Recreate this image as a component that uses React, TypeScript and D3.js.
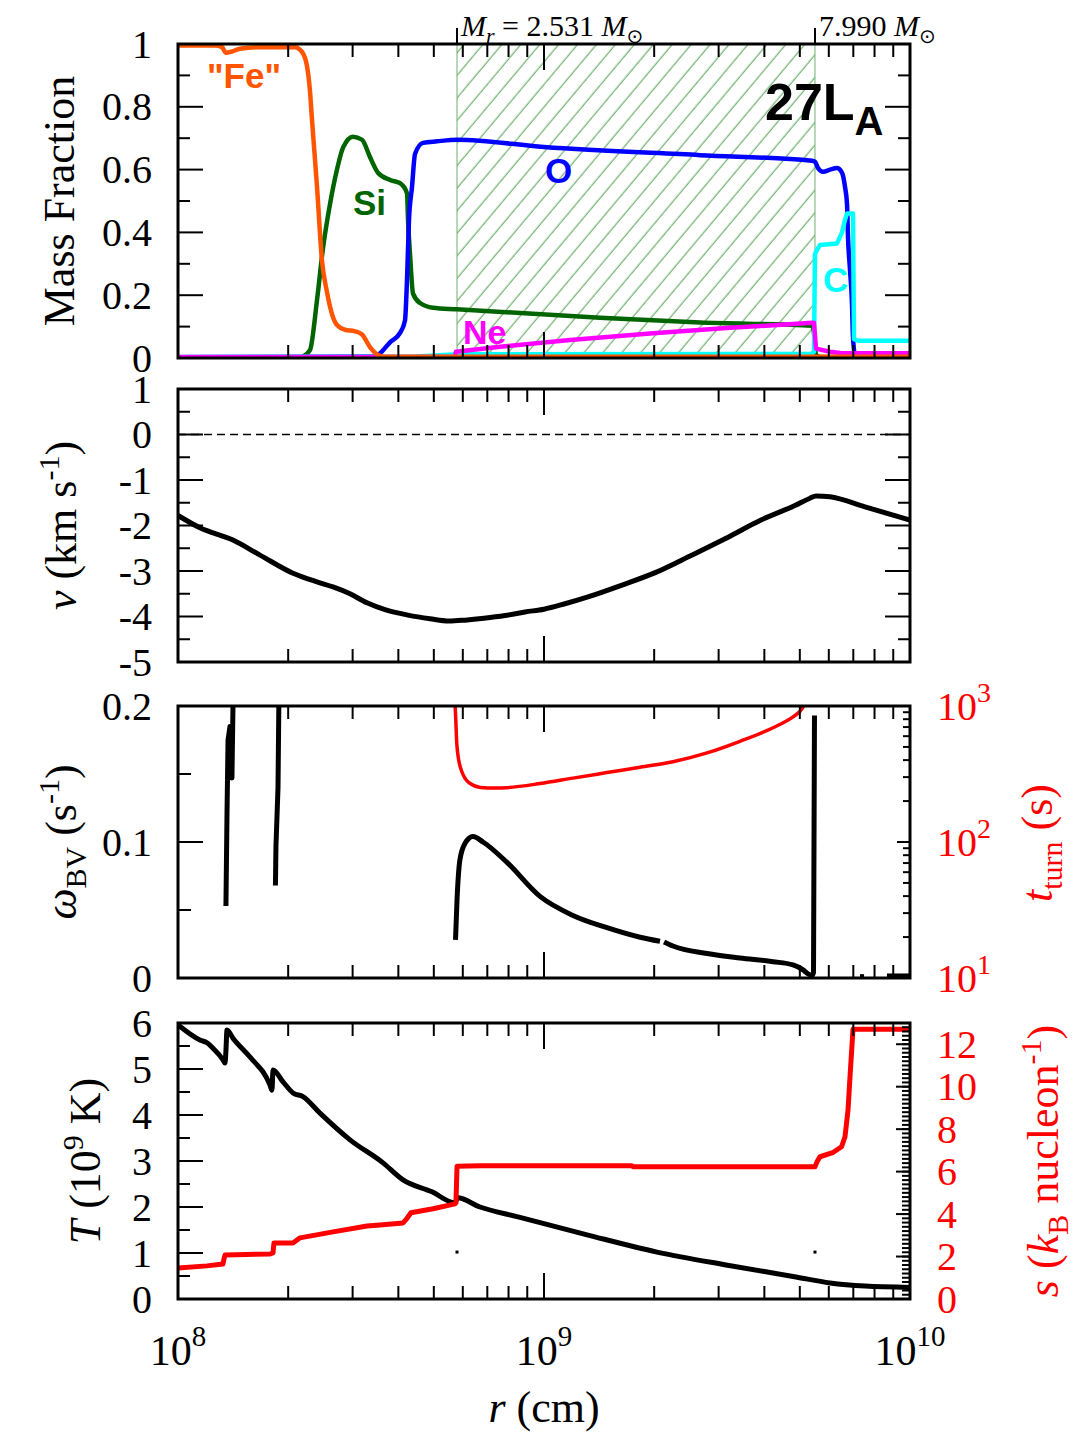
import React from "react";
import * as d3 from "d3";

type P = [number, number];

// ---------------- data ----------------
const X_TICK_EXPONENTS = [8, 9, 10];
const MF_TICKS = [0, 0.2, 0.4, 0.6, 0.8, 1];
const MF_TICK_LABELS = ["0", "0.2", "0.4", "0.6", "0.8", "1"];
const V_TICKS = [1, 0, -1, -2, -3, -4, -5];
const V_TICK_LABELS = ["1", "0", "-1", "-2", "-3", "-4", "-5"];
const W_TICKS = [0, 0.1, 0.2];
const W_TICK_LABELS = ["0", "0.1", "0.2"];
const TT_TICK_EXPONENTS = [1, 2, 3];
const T_TICKS = [0, 1, 2, 3, 4, 5, 6];
const S_TICKS = [0, 2, 4, 6, 8, 10, 12];

const MR_R = [5.785e8, 5.5e9];
const MR_LABELS = ["2.531", "7.990"];
const MR_DOT_T = 1.02;

const FE: P[] = [[1.0e8,0.995],[1.262e8,0.995],[1.319e8,0.99],[1.352e8,0.972],[1.404e8,0.976],[1.477e8,0.985],[1.675e8,0.99],[2.088e8,0.99],[2.182e8,0.975],[2.251e8,0.93],[2.294e8,0.85],[2.323e8,0.76],[2.398e8,0.545],[2.474e8,0.31],[2.553e8,0.21],[2.635e8,0.14],[2.719e8,0.105],[2.859e8,0.09],[3.045e8,0.085],[3.183e8,0.075],[3.346e8,0.035],[3.519e8,0.01],[3.678e8,0.004],[1e10,0.004]];
const SI: P[] = [[1e8,0.001],[2.154e8,0.002],[2.195e8,0.005],[2.294e8,0.025],[2.398e8,0.185],[2.49e8,0.35],[2.602e8,0.49],[2.719e8,0.6],[2.824e8,0.67],[3.007e8,0.705],[3.183e8,0.695],[3.346e8,0.64],[3.519e8,0.59],[3.795e8,0.567],[4.043e8,0.557],[4.224e8,0.525],[4.251e8,0.44],[4.305e8,0.33],[4.387e8,0.205],[4.584e8,0.175],[4.975e8,0.16],[5.785e8,0.155],[1.422e9,0.128],[2.669e9,0.113],[5.398e9,0.103],[5.466e9,0.08],[5.536e9,0.01],[5.677e9,0.003],[1e10,0.003]];
const OX: P[] = [[1e8,0.002],[3.453e8,0.005],[3.564e8,0.015],[3.795e8,0.05],[4.043e8,0.08],[4.171e8,0.12],[4.224e8,0.25],[4.277e8,0.44],[4.359e8,0.545],[4.442e8,0.65],[4.671e8,0.685],[5.102e8,0.69],[5.785e8,0.695],[1e9,0.672],[2.669e9,0.646],[5.398e9,0.628],[5.5e9,0.625],[5.606e9,0.605],[5.786e9,0.593],[6.046e9,0.6],[6.318e9,0.605],[6.52e9,0.59],[6.644e9,0.545],[6.729e9,0.49],[6.771e9,0.385],[6.857e9,0.28],[6.942e9,0.175],[6.986e9,0.067],[7.074e9,0.01],[7.164e9,0.004],[1e10,0.003]];
const CA: P[] = [[1e8,0.003],[4.5e8,0.005],[5.785e8,0.012],[5.398e9,0.013],[5.466e9,0.02],[5.5e9,0.33],[5.571e9,0.345],[5.677e9,0.36],[6.318e9,0.365],[6.52e9,0.4],[6.644e9,0.44],[6.729e9,0.46],[6.986e9,0.46],[7.031e9,0.06],[7.209e9,0.055],[1e10,0.055]];
const NE: P[] = [[1e8,0.003],[5.712e8,0.004],[5.748e8,0.02],[7.583e8,0.036],[1.178e9,0.057],[1.948e9,0.078],[3.223e9,0.096],[5.398e9,0.112],[5.466e9,0.112],[5.536e9,0.03],[6.046e9,0.02],[6.438e9,0.016],[1e10,0.015]];

const VEL: P[] = [[1e8,-1.78],[1.148e8,-2.05],[1.413e8,-2.32],[1.675e8,-2.65],[2.062e8,-3.05],[2.398e8,-3.24],[2.652e8,-3.35],[2.951e8,-3.5],[3.284e8,-3.7],[3.678e8,-3.85],[4.251e8,-3.97],[4.881e8,-4.05],[5.5e8,-4.1],[6.084e8,-4.08],[6.857e8,-4.04],[7.824e8,-3.98],[8.875e8,-3.9],[1e9,-3.84],[1.141e9,-3.72],[1.319e9,-3.57],[1.634e9,-3.31],[2.036e9,-3.02],[2.537e9,-2.65],[3.143e9,-2.28],[3.916e9,-1.88],[4.881e9,-1.55],[5.331e9,-1.4],[5.536e9,-1.35],[6.046e9,-1.37],[7.534e9,-1.59],[1e10,-1.88]];

const OMEGA_SEGMENTS: P[][] = [
  [[1.352e8,0.053],[1.361e8,0.12],[1.37e8,0.175],[1.387e8,0.185],[1.404e8,0.147],[1.422e8,0.25]],
  [[1.846e8,0.068],[1.852e8,0.097],[1.876e8,0.14],[1.894e8,0.25]],
  [[5.731e8,0.028],[5.785e8,0.057],[5.893e8,0.087],[6.084e8,0.099],[6.397e8,0.104],[6.813e8,0.1],[7.924e8,0.085],[9.752e8,0.06],[1.2e9,0.046],[1.486e9,0.037],[1.83e9,0.03],[2.075e9,0.027]],
  [[2.128e9,0.0265],[2.251e9,0.0235],[2.789e9,0.018],[3.431e9,0.0147],[4.224e9,0.012],[4.79e9,0.0096],[5.102e9,0.006],[5.264e9,0.003],[5.398e9,0.002],[5.45e9,0.004],[5.483e9,0.193]],
  [[7.3e9,0.001],[7.49e9,0.001]],
  [[8.65e9,0.0015],[1e10,0.0015]],
];
const TTURN: P[] = [[5.70e8,1200],[5.74e8,800],[5.77e8,560],[5.81e8,450],[5.87e8,380],[5.96e8,330],[6.08e8,295],[6.3e8,268],[6.7e8,252],[7.35e8,249],[7.924e8,251],[9.752e8,269],[1.2e9,295],[1.486e9,324],[1.83e9,355],[2.251e9,389],[2.789e9,452],[3.431e9,550],[4.224e9,692],[4.79e9,832],[5.0e9,912],[5.3e9,1150]];

const TEMP: P[] = [[1e8,5.96],[1.148e8,5.63],[1.2e8,5.57],[1.246e8,5.45],[1.327e8,5.2],[1.344e8,5.13],[1.352e8,5.4],[1.361e8,5.85],[1.413e8,5.67],[1.573e8,5.26],[1.784e8,4.65],[1.806e8,4.54],[1.818e8,4.98],[1.936e8,4.72],[2.062e8,4.48],[2.195e8,4.4],[2.443e8,4.04],[2.951e8,3.46],[3.632e8,2.96],[4.12e8,2.59],[4.943e8,2.33],[5.712e8,2.09],[5.803e8,2.2],[6.686e8,2.0],[8.545e8,1.78],[1.319e9,1.39],[2.036e9,1.02],[3.143e9,0.74],[4.881e9,0.48],[6.046e9,0.35],[7.534e9,0.28],[1e10,0.25]];
const ENTROPY: P[] = [[1e8,1.46],[1.2e8,1.56],[1.327e8,1.65],[1.336e8,1.9],[1.344e8,2.07],[1.784e8,2.12],[1.818e8,2.17],[1.829e8,2.64],[2.062e8,2.64],[2.154e8,2.88],[2.652e8,3.16],[3.284e8,3.44],[3.564e8,3.49],[4.12e8,3.58],[4.224e8,3.8],[4.33e8,4.06],[4.975e8,4.25],[5.712e8,4.48],[5.748e8,4.53],[5.785e8,6.25],[6.686e8,6.28],[1.739e9,6.28],[1.751e9,6.23],[5.5e9,6.23],[5.571e9,6.46],[5.677e9,6.7],[6.146e9,6.89],[6.5e9,7.17],[6.644e9,7.64],[6.771e9,8.9],[6.857e9,10.47],[6.986e9,12.7],[1e10,12.7]];

// ---------------- layout ----------------
const XL = 178, XR = 910;
const P1 = [44, 358], P2 = [389, 662], P3 = [706, 978], P4 = [1023, 1299];
const SERIF = "'Liberation Serif', 'Times New Roman', serif";
const SANS = "'Liberation Sans', Arial, sans-serif";
const TICK_FONT = 40;

const x = d3.scaleLog().domain([1e8, 1e10]).range([XL, XR]);
const yMF = d3.scaleLinear().domain([0, 1]).range([P1[1], P1[0]]);
const yV = d3.scaleLinear().domain([-5, 1]).range([P2[1], P2[0]]);
const yW = d3.scaleLinear().domain([0, 0.2]).range([P3[1], P3[0]]);
const yTT = d3.scaleLog().domain([10, 1000]).range([P3[1], P3[0]]);
const yT = d3.scaleLinear().domain([0, 6]).range([P4[1], P4[0]]);
const yS = d3.scaleLinear().domain([0, 13]).range([P4[1], P4[0]]);

function pathFor(data: P[], ys: (v: number) => number, smooth = false) {
  const gen = d3.line<P>().x((d) => x(d[0])).y((d) => ys(d[1]));
  if (smooth) gen.curve(d3.curveMonotoneX);
  return gen(data) || "";
}

function XTicks({ top, bottom }: { top: number; bottom: number }) {
  const ticks: { r: number; major: boolean }[] = [];
  for (let n = X_TICK_EXPONENTS[0]; n < X_TICK_EXPONENTS[X_TICK_EXPONENTS.length - 1]; n++)
    for (let k = 1; k <= 9; k++) ticks.push({ r: k * Math.pow(10, n), major: k === 1 });
  ticks.push({ r: 1e10, major: true });
  return (
    <g stroke="#000" strokeWidth={2}>
      {ticks.map((t, i) => {
        const xx = x(t.r);
        const l = t.major ? 26 : 13;
        return (
          <g key={i}>
            <line x1={xx} x2={xx} y1={top} y2={top + l} />
            <line x1={xx} x2={xx} y1={bottom} y2={bottom - l} />
          </g>
        );
      })}
    </g>
  );
}

function YTicks({ vals, scale, len, side, color = "#000" }: { vals: number[]; scale: (v: number) => number; len: number; side: "left" | "right"; color?: string }) {
  return (
    <g stroke={color} strokeWidth={2}>
      {vals.map((v, i) => {
        const yy = scale(v);
        return side === "left" ? (
          <line key={i} x1={XL} x2={XL + len} y1={yy} y2={yy} />
        ) : (
          <line key={i} x1={XR} x2={XR - len} y1={yy} y2={yy} />
        );
      })}
    </g>
  );
}

function range(a: number, b: number, step: number) {
  const out: number[] = [];
  for (let v = a; v <= b + 1e-9; v += step) out.push(Math.round(v * 1000) / 1000);
  return out;
}

function Frame({ t, b }: { t: number; b: number }) {
  return <rect x={XL} y={t} width={XR - XL} height={b - t} fill="none" stroke="#000" strokeWidth={3} />;
}

function LeftLabels({ vals, labels, scale }: { vals: number[]; labels: string[]; scale: (v: number) => number }) {
  return (
    <g fontFamily={SERIF} fontSize={TICK_FONT} textAnchor="end">
      {vals.map((v, i) => (
        <text key={i} x={152} y={scale(v)} dy="0.34em">{labels[i]}</text>
      ))}
    </g>
  );
}

export default function App() {
  const ttMinor: number[] = [];
  for (let e = 1; e < 3; e++) for (let k = 2; k <= 9; k++) ttMinor.push(k * Math.pow(10, e));
  const sMinor = range(0, 13, 0.2);
  const hx0 = x(MR_R[0]), hx1 = x(MR_R[1]);
  return (
    <svg width={1080} height={1440} style={{ position: "absolute", left: 0, top: 0, background: "#fff" }}>
      <defs>
        <pattern id="hatch" patternUnits="userSpaceOnUse" width={14.5} height={14.5} patternTransform="rotate(40)">
          <line x1={7} y1={-2} x2={7} y2={17} stroke="#4f9f4f" strokeWidth={1} />
        </pattern>
        {[P1, P2, P3, P4].map((p, i) => (
          <clipPath id={`clip${i}`} key={i}>
            <rect x={XL} y={p[0]} width={XR - XL} height={p[1] - p[0]} />
          </clipPath>
        ))}
      </defs>
      <rect x={0} y={0} width={1080} height={1440} fill="#fff" />

      {/* ---------- Panel 1 : mass fractions ---------- */}
      <rect x={hx0} y={P1[0]} width={hx1 - hx0} height={P1[1] - P1[0]} fill="url(#hatch)" />
      <line x1={hx0} x2={hx0} y1={P1[0]} y2={P1[1]} stroke="#6fb06f" strokeWidth={1} />
      <line x1={hx1} x2={hx1} y1={P1[0]} y2={P1[1]} stroke="#6fb06f" strokeWidth={1} />
      <g clipPath="url(#clip0)" fill="none" strokeWidth={4.5} strokeLinejoin="round">
        <path d={pathFor(SI, yMF, true)} stroke="#006400" />
        <path d={pathFor(OX, yMF, true)} stroke="#0000ff" />
        <path d={pathFor(CA, yMF)} stroke="#00ffff" />
        <path d={pathFor(NE, yMF)} stroke="#ff00ff" />
        <path d={pathFor(FE, yMF, true)} stroke="#ff5500" />
      </g>
      <Frame t={P1[0]} b={P1[1]} />
      <XTicks top={P1[0]} bottom={P1[1]} />
      <YTicks vals={MF_TICKS} scale={yMF} len={25} side="left" />
      <YTicks vals={range(0.1, 0.9, 0.2)} scale={yMF} len={12} side="left" />
      <YTicks vals={MF_TICKS} scale={yMF} len={25} side="right" />
      <YTicks vals={range(0.1, 0.9, 0.2)} scale={yMF} len={12} side="right" />
      <LeftLabels vals={MF_TICKS} labels={MF_TICK_LABELS} scale={yMF} />
      {MR_R.map((r, i) => (
        <g key={i}>
          <line x1={x(r)} x2={x(r)} y1={P1[0]} y2={P1[0] - 16} stroke="#000" strokeWidth={2} />
          <text x={x(r) + 4} y={36} fontFamily={SERIF} fontSize={30}>
            {i === 0 && (
              <>
                <tspan fontStyle="italic">M</tspan>
                <tspan fontStyle="italic" fontSize={22} dy={7}>r</tspan>
                <tspan dy={-7}>{" = "}</tspan>
              </>
            )}
            <tspan>{MR_LABELS[i] + " "}</tspan>
            <tspan fontStyle="italic">M</tspan>
            <tspan fontSize={20} dy={7} fontFamily="'DejaVu Sans', sans-serif">⊙</tspan>
          </text>
        </g>
      ))}
      <text x={207} y={88} fontFamily={SANS} fontWeight="bold" fontSize={35} fill="#ff5500">"Fe"</text>
      <text x={353} y={215} fontFamily={SANS} fontWeight="bold" fontSize={35} fill="#006400">Si</text>
      <text x={545} y={183} fontFamily={SANS} fontWeight="bold" fontSize={35} fill="#0000ff">O</text>
      <text x={463} y={344} fontFamily={SANS} fontWeight="bold" fontSize={34} fill="#ff00ff">Ne</text>
      <text x={823} y={292} fontFamily={SANS} fontWeight="bold" fontSize={35} fill="#00ffff">C</text>
      <text x={765} y={120} fontFamily={SANS} fontWeight="bold" fontSize={52} fill="#000">
        27L<tspan fontSize={40} dy={15}>A</tspan>
      </text>
      <text transform={`translate(74,${(P1[0] + P1[1]) / 2}) rotate(-90)`} textAnchor="middle" fontFamily={SERIF} fontSize={44}>Mass Fraction</text>

      {/* ---------- Panel 2 : velocity ---------- */}
      <line x1={XL} x2={XR} y1={yV(0)} y2={yV(0)} stroke="#000" strokeWidth={1.5} strokeDasharray="8,5" />
      <g clipPath="url(#clip1)" fill="none">
        <path d={pathFor(VEL, yV, true)} stroke="#000" strokeWidth={5} strokeLinejoin="round" />
      </g>
      <Frame t={P2[0]} b={P2[1]} />
      <XTicks top={P2[0]} bottom={P2[1]} />
      <YTicks vals={V_TICKS} scale={yV} len={25} side="left" />
      <YTicks vals={range(-4.5, 0.5, 1)} scale={yV} len={12} side="left" />
      <YTicks vals={V_TICKS} scale={yV} len={25} side="right" />
      <YTicks vals={range(-4.5, 0.5, 1)} scale={yV} len={12} side="right" />
      <LeftLabels vals={V_TICKS} labels={V_TICK_LABELS} scale={yV} />
      <text transform={`translate(76,${(P2[0] + P2[1]) / 2}) rotate(-90)`} textAnchor="middle" fontFamily={SERIF} fontSize={44}>
        <tspan fontStyle="italic">v</tspan>
        <tspan>{" (km s"}</tspan>
        <tspan fontSize={30} dy={-17}>-1</tspan>
        <tspan dy={17}>)</tspan>
      </text>

      {/* ---------- Panel 3 : omega_BV and t_turn ---------- */}
      <g clipPath="url(#clip2)" fill="none" strokeLinejoin="round">
        <path d={pathFor(TTURN, yTT, true)} stroke="#ff0000" strokeWidth={3.5} />
        {OMEGA_SEGMENTS.map((s, i) => (
          <path key={i} d={pathFor(s, yW, i === 2 || i === 3)} stroke="#000" strokeWidth={5} />
        ))}
      </g>
      <Frame t={P3[0]} b={P3[1]} />
      <XTicks top={P3[0]} bottom={P3[1]} />
      <YTicks vals={W_TICKS} scale={yW} len={25} side="left" />
      <YTicks vals={[0.05, 0.15]} scale={yW} len={13} side="left" />
      <YTicks vals={TT_TICK_EXPONENTS.map((e) => Math.pow(10, e))} scale={yTT} len={13} side="right" />
      <YTicks vals={ttMinor} scale={yTT} len={7} side="right" />
      <LeftLabels vals={W_TICKS} labels={W_TICK_LABELS} scale={yW} />
      <g fontFamily={SERIF} fontSize={TICK_FONT} fill="#ff0000">
        {TT_TICK_EXPONENTS.map((e, i) => (
          <text key={i} x={937} y={yTT(Math.pow(10, e))} dy="0.34em">
            10<tspan fontSize={28} dy={-18}>{e}</tspan>
          </text>
        ))}
      </g>
      <text transform={`translate(76,${(P3[0] + P3[1]) / 2}) rotate(-90)`} textAnchor="middle" fontFamily={SERIF} fontSize={44}>
        <tspan fontStyle="italic">ω</tspan>
        <tspan fontSize={30} dy={10}>BV</tspan>
        <tspan dy={-10}>{" (s"}</tspan>
        <tspan fontSize={30} dy={-17}>-1</tspan>
        <tspan dy={17}>)</tspan>
      </text>
      <text transform={`translate(1052,843) rotate(-90)`} textAnchor="middle" fontFamily={SERIF} fontSize={44} fill="#ff0000">
        <tspan fontStyle="italic">t</tspan>
        <tspan fontSize={30} dy={10}>turn</tspan>
        <tspan dy={-10}>{" (s)"}</tspan>
      </text>

      {/* ---------- Panel 4 : T and s ---------- */}
      <g clipPath="url(#clip3)" fill="none" strokeLinejoin="round">
        <path d={pathFor(TEMP, yT, true)} stroke="#000" strokeWidth={5} />
        <path d={pathFor(ENTROPY, yS)} stroke="#ff0000" strokeWidth={5} />
      </g>
      {MR_R.map((r, i) => (
        <rect key={i} x={x(r) - 1.5} y={yT(MR_DOT_T) - 1.5} width={3} height={3} fill="#000" />
      ))}
      <Frame t={P4[0]} b={P4[1]} />
      <XTicks top={P4[0]} bottom={P4[1]} />
      <YTicks vals={T_TICKS} scale={yT} len={25} side="left" />
      <YTicks vals={range(0.5, 5.5, 1)} scale={yT} len={12} side="left" />
      <YTicks vals={S_TICKS} scale={yS} len={14} side="right" />
      <YTicks vals={sMinor} scale={yS} len={8} side="right" />
      <LeftLabels vals={T_TICKS} labels={T_TICKS.map(String)} scale={yT} />
      <g fontFamily={SERIF} fontSize={TICK_FONT} fill="#ff0000">
        {S_TICKS.map((v, i) => (
          <text key={i} x={937} y={yS(v)} dy="0.34em">{String(v)}</text>
        ))}
      </g>
      <text transform={`translate(100,${(P4[0] + P4[1]) / 2}) rotate(-90)`} textAnchor="middle" fontFamily={SERIF} fontSize={44}>
        <tspan fontStyle="italic">T</tspan>
        <tspan>{" (10"}</tspan>
        <tspan fontSize={30} dy={-17}>9</tspan>
        <tspan dy={17}>{" K)"}</tspan>
      </text>
      <text transform={`translate(1058,${(P4[0] + P4[1]) / 2}) rotate(-90)`} textAnchor="middle" fontFamily={SERIF} fontSize={44} fill="#ff0000">
        <tspan fontStyle="italic">s</tspan>
        <tspan>{" ("}</tspan>
        <tspan fontStyle="italic">k</tspan>
        <tspan fontSize={30} dy={10}>B</tspan>
        <tspan dy={-10}>{" nucleon"}</tspan>
        <tspan fontSize={30} dy={-17}>-1</tspan>
        <tspan dy={17}>)</tspan>
      </text>

      {/* ---------- x axis labels ---------- */}
      <g fontFamily={SERIF} fontSize={42} textAnchor="middle">
        {X_TICK_EXPONENTS.map((e, i) => (
          <text key={i} x={x(Math.pow(10, e))} y={1365}>
            10<tspan fontSize={29} dy={-19}>{e}</tspan>
          </text>
        ))}
      </g>
      <text x={(XL + XR) / 2} y={1422} textAnchor="middle" fontFamily={SERIF} fontSize={44}>
        <tspan fontStyle="italic">r</tspan>
        <tspan>{" (cm)"}</tspan>
      </text>
    </svg>
  );
}
